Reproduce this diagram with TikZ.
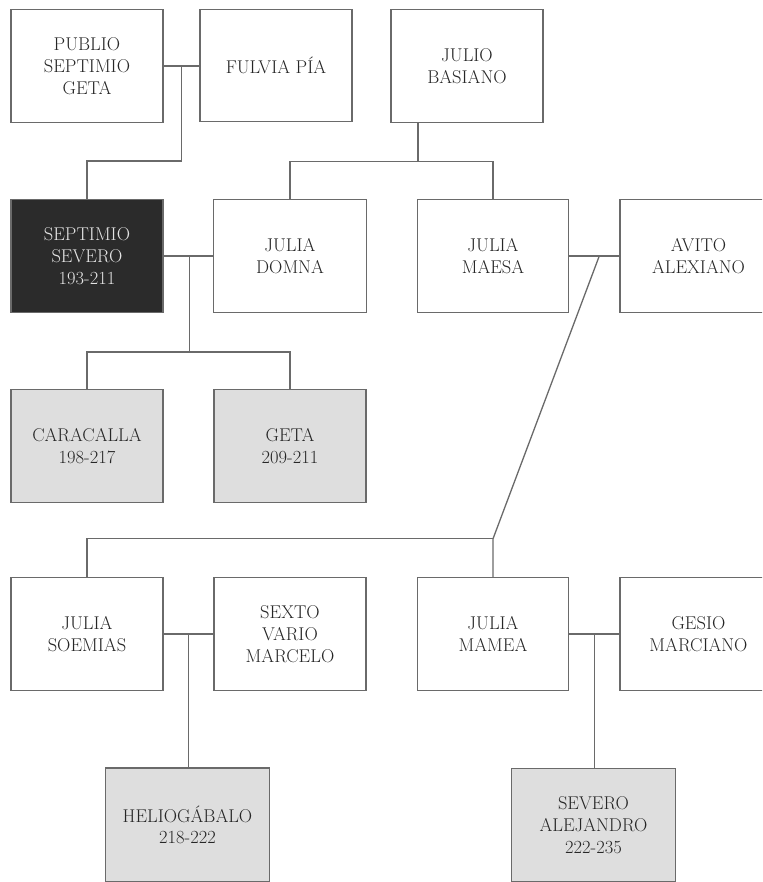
\documentclass[tikz,border=0pt]{standalone}
\usetikzlibrary{calc}
\definecolor{lin}{HTML}{6A6A6A}
\definecolor{txt}{HTML}{262626}
\definecolor{greyfill}{HTML}{DEDEDE}
\definecolor{darkfill}{HTML}{2B2B2B}
\definecolor{lighttxt}{HTML}{E4E4E4}
\tikzset{
  person/.style={draw=lin, line width=1.4pt, fill=white, minimum width=152pt, minimum height=113pt,
    align=center, inner sep=0pt, text=txt,
    font=\fontsize{18.5}{21.7}\selectfont},
  ruler/.style={person, fill=greyfill},
  emperor/.style={person, fill=darkfill, text=lighttxt},
  link/.style={draw=lin, line width=1.3pt}
}
\begin{document}
\begin{tikzpicture}[x=1pt,y=-1pt]
\clip (0,0) rectangle (762,882);
\fill[white] (0,0) rectangle (762,882);
% row 1
\node[person] (pub) at (87,66) {PUBLIO\\SEPTIMIO\\GETA};
\node[person, minimum height=112pt] (ful) at (276,65.5) {FULVIA PÍA};
\node[person] (jb) at (467,66) {JULIO\\BASIANO};
% row 2
\node[emperor] (sev) at (87,256) {SEPTIMIO\\SEVERO\\193-211};
\node[person, minimum width=153pt] (dom) at (290,256) {JULIA\\DOMNA};
\node[person, minimum width=151pt] (mae) at (493,256) {JULIA\\MAESA};
\node[person, minimum width=157pt] (avi) at (698.5,256) {AVITO\\ALEXIANO};
% row 3
\node[ruler] (car) at (87,446) {CARACALLA\\198-217};
\node[ruler] (get) at (290,446) {GETA\\209-211};
% row 4
\node[person] (soe) at (87,634) {JULIA\\SOEMIAS};
\node[person] (sex) at (290,634) {SEXTO\\VARIO\\MARCELO};
\node[person, minimum width=151pt] (mam) at (493,634) {JULIA\\MAMEA};
\node[person, minimum width=157pt] (ges) at (698.5,634) {GESIO\\MARCIANO};
% row 5
\node[ruler, minimum width=164pt, minimum height=114pt] (hel) at (187.5,825) {HELIOGÁBALO\\218-222};
\node[ruler, minimum width=164pt] (sal) at (593.5,825) {SEVERO\\ALEJANDRO\\222-235};
% connectors
\draw[link] (pub.east) -- (pub.east -| ful.west) coordinate[pos=0.5] (m1);
\draw[link] (m1) -- ++(0,95) -| (sev.north);
\draw[link] ([xshift=-49pt]jb.south) -- ++(0,38) coordinate (b1);
\draw[link] (dom.north) |- (b1) -| (mae.north);
\draw[link] (sev.east) -- (dom.west) coordinate[pos=0.52] (m2);
\draw[link] (m2) -- ++(0,96) coordinate (c2);
\draw[link] (car.north) |- (c2) -| (get.north);
\draw[link] (mae.east) -- (avi.west) coordinate[pos=0.6] (m3);
\draw[link] (m3) -- ($(mam.north)+(0,-38)$) coordinate (c3) -- (mam.north);
\draw[link] (c3) -| (soe.north);
\draw[link] (soe.east) -- (sex.west) coordinate[pos=0.5] (m4);
\draw[link] (m4) -- (m4 |- hel.north);
\draw[link] (mam.east) -- (ges.west) coordinate[pos=0.5] (m5);
\draw[link] (m5) -- (m5 |- sal.north);
\end{tikzpicture}
\end{document}
